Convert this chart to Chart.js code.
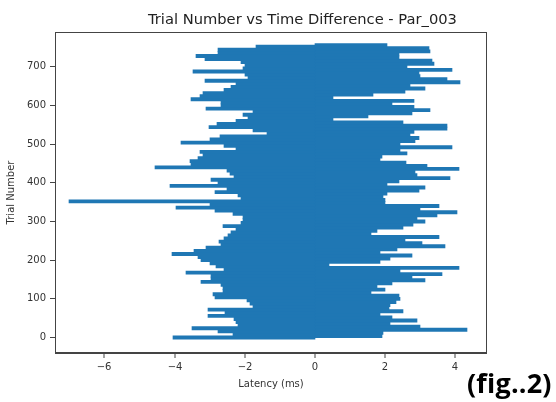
<!DOCTYPE html>
<html>
<head>
<meta charset="utf-8">
<script src="https://cdn.jsdelivr.net/npm/chart.js@4.4.1/dist/chart.umd.min.js"></script>
<style>
  html, body { margin: 0; padding: 0; background: #fff; }
  #wrap { position: relative; width: 556px; height: 402px; }
  #fig { position: absolute; left: 467px; top: 364px; font: bold 27px "Open Sans", sans-serif; letter-spacing: 0.2px; color: #000; }
</style>
</head>
<body>
<div id="wrap">
  <canvas id="chart" width="556" height="402"></canvas>
  <div id="fig">(fig..2)</div>
</div>
<script>
const chartTitle = "Trial Number vs Time Difference - Par_003";
const xTicks = [-6, -4, -2, 0, 2, 4];
const yTicks = [0, 100, 200, 300, 400, 500, 600, 700];

const trialStep = 4;
const latency = [
  -4.05, 1.90,  -2.33, 1.95,  -2.76, 4.33,  -3.50, 3.00,  -2.20, 2.14,
  -2.24, 2.90,  -2.30, 2.20,  -3.05, 1.86,  -2.57, 2.52,  -3.05, 2.10,
  -1.76, 2.14,  -1.85, 2.30,  -1.95, 2.43,  -2.86, 2.38,  -2.90, 1.60,
  -2.62, 2.00,  -2.62, 1.76,  -2.67, 2.19,  -3.24, 3.14,  -2.95, 2.76,
  -2.95, 3.62,  -3.67, 2.43,  -2.60, 4.10,  -2.83, 0.40,  -3.00, 1.86,
  -3.24, 2.14,  -3.33, 2.76,  -4.07, 1.86,  -3.46, 2.33,  -3.10, 3.71,
  -2.67, 3.05,  -2.74, 2.57,  -2.60, 3.52,  -2.48, 1.60,  -2.40, 1.76,
  -2.24, 2.52,  -2.62, 2.80,  -2.10, 3.14,  -2.05, 2.90,  -2.05, 3.48,
  -2.33, 4.05,  -2.86, 3.00,  -3.97, 3.52,  -3.00, 2.00,  -7.00, 2.00,
  -2.10, 1.95,  -2.20, 2.05,  -2.86, 2.95,  -2.50, 3.14,  -4.14, 2.05,
  -2.76, 2.40,  -2.95, 3.86,  -2.30, 2.90,  -2.43, 2.86,  -2.50, 4.10,
  -4.57, 3.19,  -3.52, 2.60,  -3.57, 1.86,  -3.33, 1.90,  -3.20, 2.62,
  -3.29, 2.43,  -2.24, 3.90,  -2.60, 2.43,  -3.81, 2.86,  -3.00, 2.95,
  -2.70, 2.70,  -1.37, 2.81,  -1.78, 3.76,  -3.03, 3.76,  -2.80, 2.52,
  -2.24, 0.50,  -1.90, 1.50,  -2.05, 2.76,  -1.76, 3.28,  -3.10, 2.81,
  -2.67, 2.19,  -2.67, 2.81,  -3.52, 0.50,  -3.29, 1.66,  -3.20, 2.57,
  -2.60, 3.14,  -2.40, 2.71,  -2.24, 4.12,  -3.14, 3.76,  -1.90, 3.00,
  -2.00, 2.95,  -3.48, 3.90,  -2.05, 2.62,  -2.00, 3.38,  -2.10, 3.33,
  -3.14, 2.40,  -3.40, 2.38,  -2.77, 3.28,  -2.77, 3.24,  -1.67, 2.05
];
const trials = latency.map((_, i) => i * trialStep);

const tickFont = { family: "DejaVu Sans", size: 10 };
const axisColor = "#444";

const frame = {
  id: "frame",
  afterDraw(chart) {
    const { ctx, chartArea: a } = chart;
    ctx.save();
    ctx.strokeStyle = axisColor;
    ctx.lineWidth = 1;
    ctx.strokeRect(a.left + 0.5, a.top + 0.5, a.right - a.left - 1, a.bottom - a.top - 1);
    ctx.fillStyle = "#222";
    ctx.font = '14.7px "DejaVu Sans"';
    ctx.textAlign = "left";
    ctx.textBaseline = "middle";
    ctx.fillText(chartTitle, 148, 20);
    ctx.restore();
  }
};

const minus = v => (v < 0 ? "\u2212" + Math.abs(v) : String(v));

new Chart(document.getElementById("chart"), {
  type: "bar",
  data: {
    labels: trials,
    datasets: [{
      data: latency,
      backgroundColor: "#1f77b4",
      borderWidth: 0,
      barThickness: 3.2
    }]
  },
  options: {
    indexAxis: "y",
    responsive: false,
    animation: false,
    devicePixelRatio: 1,
    layout: { padding: { top: 32, right: 69, left: 0, bottom: 0 } },
    plugins: {
      legend: { display: false },
      tooltip: { enabled: false },
      title: { display: false }
    },
    scales: {
      x: {
        type: "linear",
        min: -7.409,
        max: 4.901,
        offset: false,
        alignToPixels: true,
        afterFit: s => { s.height = 49; },
        afterBuildTicks: s => { s.ticks = xTicks.map(v => ({ value: v })); },
        // lineWidth 0 keeps bars from being nudged off the zero line
        grid: { drawOnChartArea: false, offset: false, tickLength: 5, lineWidth: 0, tickWidth: 1, color: axisColor, tickColor: axisColor },
        border: { display: true, color: axisColor },
        ticks: { color: "#333", font: tickFont, padding: 3, maxRotation: 0, callback: minus },
        title: { display: true, text: "Latency (ms)", color: "#333", font: tickFont, padding: { top: 0, bottom: 12 } }
      },
      y: {
        type: "linear",
        min: -40,
        max: 790,
        offset: false,
        afterFit: s => { s.width = 55; },
        afterBuildTicks: s => { s.ticks = yTicks.map(v => ({ value: v })); },
        grid: { drawOnChartArea: false, offset: false, tickLength: 5, color: axisColor },
        border: { display: true, color: axisColor },
        ticks: { color: "#333", font: tickFont, padding: 4, callback: minus },
        title: { display: true, text: "Trial Number", color: "#333", font: tickFont, padding: { top: 5, bottom: 0 } }
      }
    }
  },
  plugins: [frame]
});
</script>
</body>
</html>
